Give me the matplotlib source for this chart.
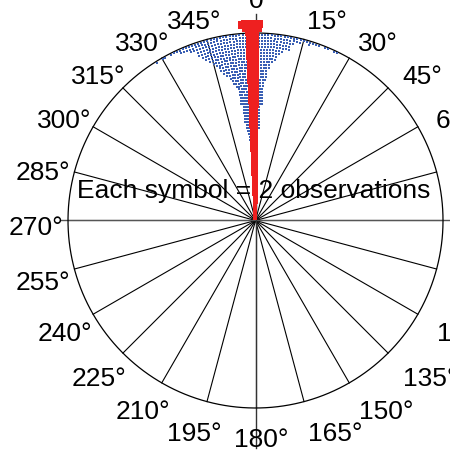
import numpy as np
import matplotlib
matplotlib.use("Agg")
import matplotlib.pyplot as plt

plt.rcParams['font.family'] = ['Liberation Sans', 'DejaVu Sans']

# direction bins (deg, clockwise from north) and observation counts
blue_dirs = list(range(-32, 27))
blue_obs = [2, 0, 2, 2, 0, 2, 2, 2, 4, 4, 4, 6, 6, 10, 12, 14, 16, 18, 20, 24,
            26, 28, 30, 34, 36, 48, 60, 66, 72, 76, 80, 84, 84, 80, 64, 48, 32,
            24, 20, 18, 14, 12, 10, 10, 6, 4, 4, 2, 2, 4, 2, 2, 2, 0, 2, 2, 0,
            2, 2]

red_dirs = [-4.5, -3.5, -2.5, -1.5, -0.5, 0.5, 1.5]
red_obs = [4, 6, 96, 104, 100, 92, 6]

obs_per_symbol = 2

tick_angles = list(range(0, 360, 15))
tick_labels = ["0°" if a == 0 else f"{a}°" for a in tick_angles]

# geometry (circle radius = 1)
blue_step = 0.016
red_step = 0.0213
red_start = 1.059


def stack_points(dirs, obs, start, step):
    xs, ys = [], []
    for d, n in zip(dirs, obs):
        k = np.arange(n // obs_per_symbol)
        r = start - k * step
        r = r[r > 0]
        t = np.deg2rad(d)
        xs.extend(r * np.sin(t))
        ys.extend(r * np.cos(t))
    return np.array(xs), np.array(ys)


fig = plt.figure(figsize=(4.5, 4.61), dpi=100)
ax = fig.add_axes([0, 0, 1, 1])
ax.set_xlim(-1.3627, 1.0373)
ax.set_ylim(-1.2827, 1.176)
ax.axis('off')

# outer circle
th = np.linspace(0, 2 * np.pi, 400)
ax.plot(np.sin(th), np.cos(th), color='black', lw=0.9, zorder=2)

# spokes
for a in tick_angles:
    t = np.deg2rad(a)
    ax.plot([0, np.sin(t)], [0, np.cos(t)], color='black', lw=0.8, zorder=1)

# axis cross
ax.plot([-1.045, 1.3], [0, 0], color='#555555', lw=1.0, zorder=1)
ax.plot([0, 0], [-1.213, 1.10], color='#333333', lw=1.0, zorder=1)

bx, by = stack_points(blue_dirs, blue_obs, 0.992, blue_step)
ax.scatter(bx, by, s=2.0, marker='s', color='#3a5fb4', linewidths=0, zorder=3)

rx, ry = stack_points(red_dirs, red_obs, red_start, red_step)
ax.scatter(rx, ry, s=6, marker='s', color='#ee2020', linewidths=0, zorder=4)

# direction labels
for a, lab in zip(tick_angles, tick_labels):
    t = np.deg2rad(a)
    s, c = np.sin(t), np.cos(t)
    if abs(s) < 1e-6:
        x = 0.03
        y = 1.17 * c
    else:
        if s > 0:
            dx = 0.085 if c > 0 else 0.13
        else:
            dx = -0.034
        x = 1.136 * s + dx
        y = 1.136 * c - 0.04
    ax.text(x, y, lab, ha='center', va='center', fontsize=19, clip_on=False)

ax.text(-0.008, 0.157, "Each symbol = 2 observations", ha='center',
        va='center', fontsize=19, zorder=5)

fig.savefig("out.png", dpi=100)
